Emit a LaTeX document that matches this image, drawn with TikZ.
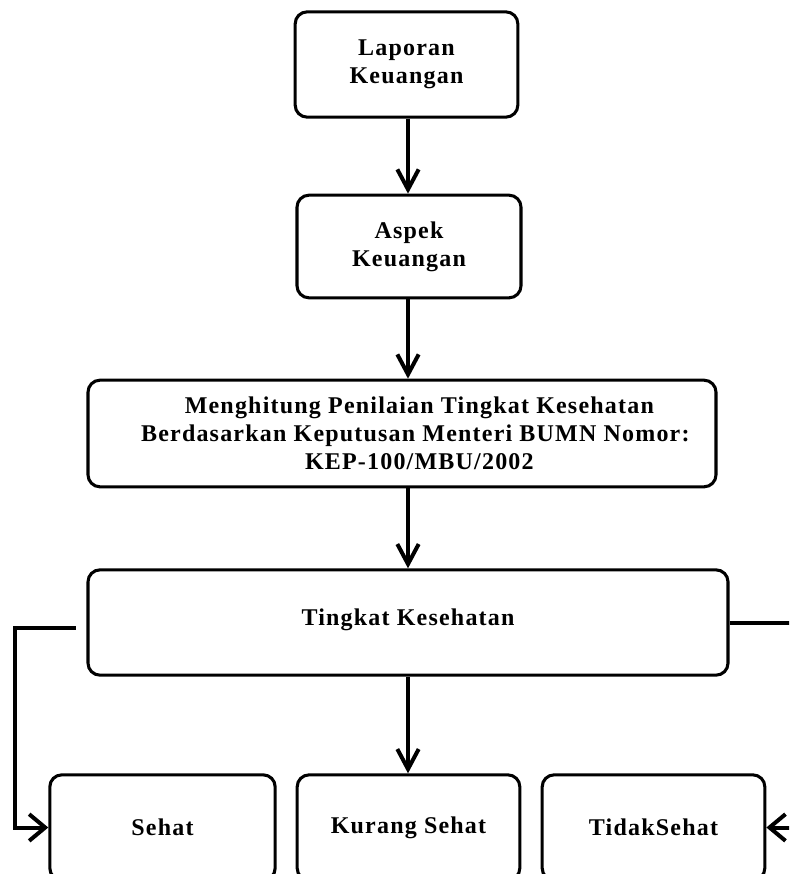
\documentclass[tikz,border=0pt]{standalone}
\usepackage{fontspec}
\setmainfont{Liberation Serif}[LetterSpace=5]
\usepackage{tikz}
\usetikzlibrary{arrows.meta, positioning, calc}

\begin{document}
\begin{tikzpicture}[x=0.75pt, y=-0.75pt,
    kotak/.style={draw, line width=2.3pt, rounded corners=9pt, align=center,
        font=\bfseries\fontsize{18}{21}\selectfont},
    panah/.style={line width=3pt, -{Straight Barb[length=15pt, width=16pt, line width=3pt]}},
    panahsamping/.style={line width=3pt, -{Straight Barb[length=12pt, width=20pt, line width=3pt]}}]
    \useasboundingbox (0,0) rectangle (789,874);
    \clip (0,0) rectangle (789,874);

    % alur utama
    \node[kotak, minimum width=167pt, minimum height=79pt] (lap) at (406.5, 64.5) {Laporan\\Keuangan};
    \node[kotak, minimum width=168pt, minimum height=77pt] (aspek) at (409, 246.5) {Aspek\\Keuangan};
    \node[kotak, minimum width=471pt, minimum height=80pt] (hitung) at (402, 433.5)
        {\hspace*{26pt}Menghitung Penilaian Tingkat Kesehatan\\
         \hspace*{20pt}Berdasarkan Keputusan Menteri BUMN Nomor:\\
         \hspace*{26pt}KEP-100/MBU/2002};
    \node[kotak, minimum width=480pt, minimum height=79pt] (tingkat) at (408, 622.5) {Tingkat Kesehatan\\[-13pt]};

    % hasil penilaian
    \node[kotak, minimum width=169pt, minimum height=79pt] (sehat) at (162.5, 827.5) {Sehat};
    \node[kotak, minimum width=167pt, minimum height=79pt] (kurang) at (408.5, 827.5) {Kurang Sehat};
    \node[kotak, minimum width=167pt, minimum height=79pt] (tidak) at (653.5, 827.5) {TidakSehat};

    \draw[panah] (lap.south -| tingkat) -- (aspek.north -| tingkat);
    \draw[panah] (aspek.south -| tingkat) -- (hitung.north -| tingkat);
    \draw[panah] (hitung.south -| tingkat) -- (tingkat.north);
    \draw[panah] (tingkat.south) -- (kurang.north -| tingkat);

    % cabang kiri dan kanan
    \coordinate (kiri) at (15, 827.5);
    \coordinate (kanan) at (805, 827.5);
    \draw[panahsamping, shorten <=8pt] ([yshift=-4pt]tingkat.west) -- ([yshift=-4pt]tingkat.west -| kiri) -- (kiri) -- (sehat.west);
    \draw[panahsamping] (tingkat.east) -- (tingkat.east -| kanan) -- (kanan) -- (tidak.east);
\end{tikzpicture}
\end{document}
